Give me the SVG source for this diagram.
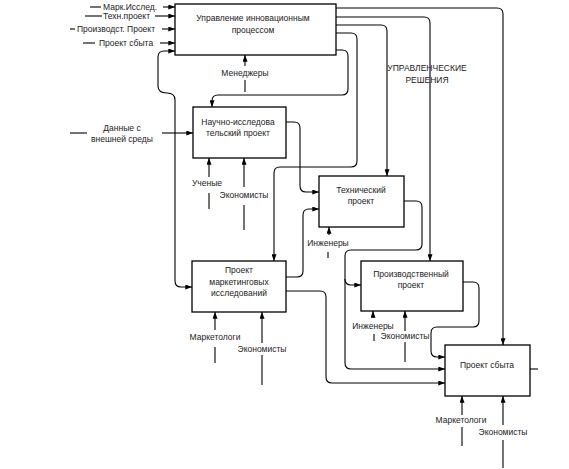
<svg xmlns="http://www.w3.org/2000/svg" width="569" height="469" viewBox="0 0 569 469">
<defs>
<marker id="ah" viewBox="0 0 8 6" refX="8" refY="3" markerWidth="7" markerHeight="5" markerUnits="userSpaceOnUse" orient="auto">
<path d="M0,0 L8,3 L0,6 z" fill="#000"/>
</marker>
<style>
.box{fill:#fff;stroke:#000;stroke-width:1.3}
.c{fill:none;stroke:#000;stroke-width:1.1}
.a{fill:none;stroke:#000;stroke-width:1.1;marker-end:url(#ah)}
text{font-family:"Liberation Sans",Arial,sans-serif;font-size:8.5px;fill:#222}
.m{text-anchor:middle}
</style>
</defs>
<rect width="569" height="469" fill="#fff"/>
<g id="connectors">
<path class="a" d="M336,8 H497 Q503,8 503,14 V345"/>
<path class="a" d="M336,17 H424 Q430,17 430,23 V261"/>
<path class="a" d="M336,25 H381 Q387,25 387,31 V176"/>
<path class="a" d="M336,33 H351 Q357,33 357,39 V161 Q357,167 351,167 H280 Q274,167 274,173 V261"/>
<path class="a" d="M336,50 H342 Q348,50 348,56 V89 Q348,95 342,95 H218 Q212,95 212,101 V107"/>
<path class="a" d="M175,100 Q175,93 167,93 Q158,93 158,86 V57 Q158,51 164,51 H175"/>
<path class="a" d="M175,100 V281 Q175,287 181,287 H192"/>
<path class="a" d="M286,122 H294 Q300,122 300,128 V186 Q300,192 306,192 H319"/>
<path class="a" d="M286,277 H297 Q303,277 303,271 V215 Q303,209 309,209 H319"/>
<path class="a" d="M404,201 H416 Q422,201 422,207 V244 Q422,250 416,250 H351 Q345,250 345,256 V363 Q345,369 351,369 H445"/>
<path class="a" d="M345,279 Q345,285 351,285 H361"/>
<path class="a" d="M463,282 H473 Q479,282 479,288 V321 Q479,327 473,327 H437 Q431,327 431,333 V351 Q431,357 437,357 H445"/>
<path class="a" d="M286,291 H320 Q326,291 326,297 V377 Q326,383 332,383 H445"/>
<path class="c" d="M530,369 H538"/>
<!-- inputs to A -->
<path class="c" d="M90,7 H101"/>
<path class="a" d="M163,7 H175"/>
<path class="c" d="M85,16 H102"/>
<path class="a" d="M155,16 H175"/>
<path class="c" d="M70,29 H75"/>
<path class="a" d="M162,29 H175"/>
<path class="c" d="M83,43 H95"/>
<path class="a" d="M160,43 H175"/>
<!-- input to B -->
<path class="c" d="M70,133 H87"/>
<path class="a" d="M162,133 H193"/>
<!-- mechanisms -->
<path class="a" d="M245,66 V55"/><path class="c" d="M245,80 V92"/>
<path class="a" d="M209,177 V158"/><path class="c" d="M209,193 V209"/>
<path class="a" d="M244,187 V158"/><path class="c" d="M244,205 V230"/>
<path class="a" d="M329,235 V227"/><path class="c" d="M328,252 V258"/>
<path class="a" d="M215,330 V312"/><path class="c" d="M215,347 V363"/>
<path class="a" d="M262,343 V312"/><path class="c" d="M262,355 V385"/>
<path class="a" d="M373,318 V311"/><path class="c" d="M374,334 V341"/>
<path class="a" d="M405,331 V311"/><path class="c" d="M405,342 V362"/>
<path class="a" d="M462,415 V396"/><path class="c" d="M462,427 V446"/>
<path class="a" d="M503,425 V396"/><path class="c" d="M503,440 V468"/>
</g>
<g id="labels">
<text x="103" y="10">Марк.Исслед.</text>
<text x="103" y="19">Техн.проект</text>
<text x="77" y="32">Производст. Проект</text>
<text x="99" y="46">Проект сбыта</text>
<text class="m" x="122" y="131">Данные с</text>
<text class="m" x="122" y="142">внешней среды</text>
<text class="m" x="245" y="76">Менеджеры</text>
<text class="m" x="207" y="186">Ученые</text>
<text class="m" x="244" y="198">Экономисты</text>
<text class="m" x="328" y="246">Инженеры</text>
<text class="m" x="215" y="340">Маркетологи</text>
<text class="m" x="262" y="352">Экономисты</text>
<text class="m" x="373" y="329">Инженеры</text>
<text class="m" x="405" y="339">Экономисты</text>
<text class="m" x="461" y="423">Маркетологи</text>
<text class="m" x="503" y="435">Экономисты</text>
<text class="m" x="427" y="71">УПРАВЛЕНЧЕСКИЕ</text>
<text class="m" x="427" y="83">РЕШЕНИЯ</text>
</g>
<g id="nodeA">
<rect class="box" x="175" y="4" width="161" height="51"/>
<text class="m" x="253" y="21">Управление инновационным</text>
<text class="m" x="253" y="33">процессом</text>
</g>
<g id="nodeB">
<rect class="box" x="193" y="107" width="93" height="51"/>
<text class="m" x="238" y="125">Научно-исследова</text>
<text class="m" x="238" y="136">тельский проект</text>
</g>
<g id="nodeC">
<rect class="box" x="319" y="176" width="85" height="51"/>
<text class="m" x="361" y="193">Технический</text>
<text class="m" x="361" y="204">проект</text>
</g>
<g id="nodeD">
<rect class="box" x="192" y="261" width="94" height="51"/>
<text class="m" x="239" y="273">Проект</text>
<text class="m" x="239" y="285">маркетинговых</text>
<text class="m" x="239" y="296">исследований</text>
</g>
<g id="nodeE">
<rect class="box" x="361" y="261" width="102" height="50"/>
<text class="m" x="411" y="277">Производственный</text>
<text class="m" x="411" y="288">проект</text>
</g>
<g id="nodeF">
<rect class="box" x="445" y="345" width="85" height="51"/>
<text class="m" x="487" y="368">Проект сбыта</text>
</g>
</svg>
